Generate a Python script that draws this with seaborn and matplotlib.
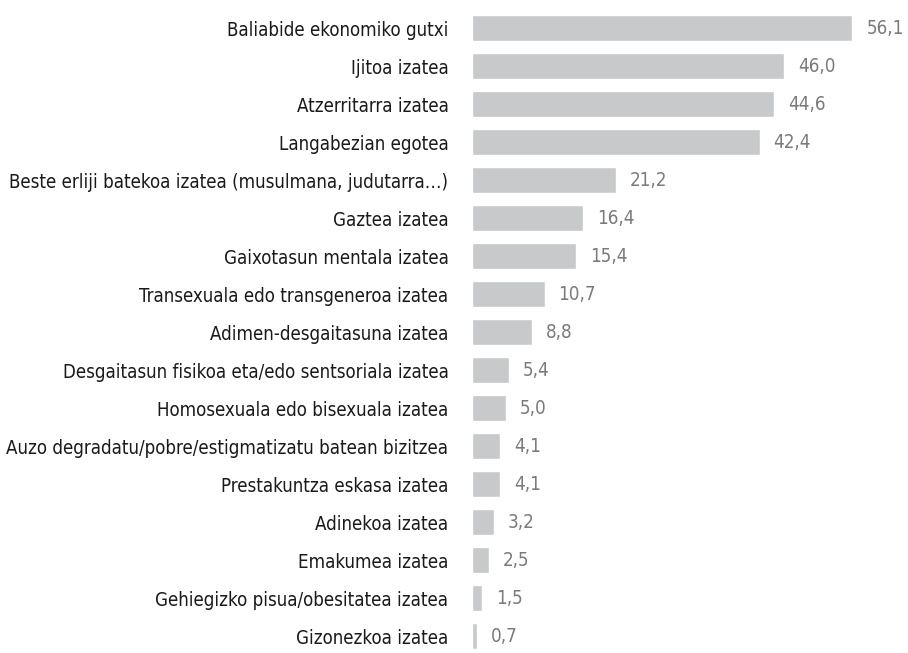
import seaborn as sns
import pandas as pd
from matplotlib import pyplot as plt

categories = [
    "Baliabide ekonomiko gutxi",
    "Ijitoa izatea",
    "Atzerritarra izatea",
    "Langabezian egotea",
    "Beste erliji batekoa izatea (musulmana, judutarra…)",
    "Gaztea izatea",
    "Gaixotasun mentala izatea",
    "Transexuala edo transgeneroa izatea",
    "Adimen-desgaitasuna izatea",
    "Desgaitasun fisikoa eta/edo sentsoriala izatea",
    "Homosexuala edo bisexuala izatea",
    "Auzo degradatu/pobre/estigmatizatu batean bizitzea",
    "Prestakuntza eskasa izatea",
    "Adinekoa izatea",
    "Emakumea izatea",
    "Gehiegizko pisua/obesitatea izatea",
    "Gizonezkoa izatea",
]
values = [56.1, 46.0, 44.6, 42.4, 21.2, 16.4, 15.4, 10.7, 8.8, 5.4, 5.0, 4.1, 4.1, 3.2, 2.5, 1.5, 0.7]

df = pd.DataFrame({"cat": categories, "val": values})

sns.set_style("white")
plt.rcParams['font.family'] = ['DejaVu Sans']
plt.rcParams['font.stretch'] = 'condensed'

fig = plt.figure(figsize=(9.08, 6.53), dpi=100)
ax = fig.add_axes([472 / 908, 0, 436 / 908, 1])

sns.barplot(data=df, x="val", y="cat", orient="h", color="#c8c9ca",
            saturation=1, width=0.69, ax=ax)

ax.set_xlim(0, 64.3)
ax.set_ylim(16.447, -0.737)
ax.set_xlabel("")
ax.set_ylabel("")
ax.set_xticks([])
sns.despine(ax=ax, left=True, bottom=True)
ax.tick_params(axis="y", length=0, pad=17, labelsize=13.4, labelcolor="#1a1a1a")

for c in ax.containers:
    ax.bar_label(c, labels=[f"{v:.1f}".replace(".", ",") for v in values],
                 padding=10, fontsize=13.5, color="#7a7a7a")

fig.savefig("out.png", dpi=100)
